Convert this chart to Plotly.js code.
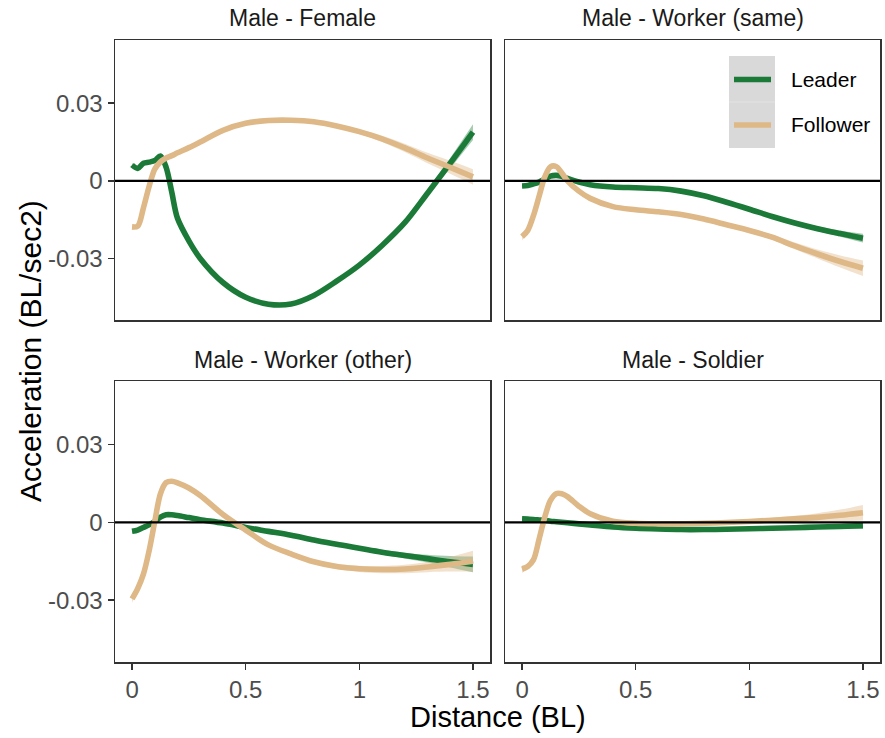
<!DOCTYPE html>
<html>
<head>
<meta charset="utf-8">
<script src="https://cdn.plot.ly/plotly-3.0.1.min.js"></script>
<style>html,body{margin:0;padding:0;background:#fff;}#chart{width:885px;height:738px;}</style>
</head>
<body>
<div id="chart"></div>
<script>
// ---- data ----
const distance = [0,0.025,0.05,0.075,0.1,0.125,0.15,0.175,0.2,0.25,0.3,0.4,0.5,0.6,0.7,0.8,0.9,1.0,1.1,1.2,1.3,1.4,1.5];
const panels = ["Male - Female","Male - Worker (same)","Male - Worker (other)","Male - Soldier"];
const roles = ["Leader","Follower"];

const femaleLeader   = [0.0061,0.0048,0.0068,0.0072,0.0078,0.0096,0.0052,-0.0045,-0.0145,-0.0232,-0.0300,-0.0393,-0.0450,-0.0477,-0.0476,-0.0443,-0.0388,-0.0326,-0.0250,-0.0162,-0.0048,0.0068,0.0188];
const femaleFollower = [-0.0178,-0.0175,-0.0105,-0.0022,0.0045,0.0073,0.0088,0.0097,0.0108,0.0128,0.0150,0.0195,0.0222,0.0233,0.0234,0.0228,0.0212,0.0190,0.0162,0.0127,0.0088,0.0052,0.0015];
const sameLeader     = [-0.0020,-0.0018,-0.0012,-0.0005,0.0006,0.0018,0.0021,0.0017,0.0009,-0.0005,-0.0015,-0.0024,-0.0027,-0.0030,-0.0040,-0.0058,-0.0083,-0.0110,-0.0138,-0.0163,-0.0185,-0.0204,-0.0222];
const sameFollower   = [-0.0216,-0.0192,-0.0135,-0.0060,0.0015,0.0054,0.0055,0.0030,0.0000,-0.0040,-0.0068,-0.0100,-0.0112,-0.0120,-0.0130,-0.0148,-0.0170,-0.0192,-0.0218,-0.0252,-0.0283,-0.0312,-0.0338];
const otherLeader    = [-0.0035,-0.0030,-0.0020,-0.0010,0.0003,0.0020,0.0029,0.0029,0.0026,0.0018,0.0010,-0.0003,-0.0020,-0.0035,-0.0050,-0.0068,-0.0085,-0.0100,-0.0115,-0.0128,-0.0140,-0.0152,-0.0162];
const otherFollower  = [-0.0295,-0.0255,-0.0200,-0.0110,0.0003,0.0110,0.0153,0.0158,0.0152,0.0132,0.0103,0.0030,-0.0030,-0.0087,-0.0122,-0.0152,-0.0170,-0.0179,-0.0182,-0.0180,-0.0172,-0.0162,-0.0150];
const soldierLeader  = [0.0013,0.0012,0.0011,0.0009,0.0007,0.0004,0.0002,0.0000,-0.0002,-0.0006,-0.0010,-0.0018,-0.0023,-0.0026,-0.0028,-0.0028,-0.0027,-0.0025,-0.0023,-0.0021,-0.0018,-0.0016,-0.0013];
const soldierFollower= [-0.0180,-0.0170,-0.0145,-0.0065,0.0020,0.0084,0.0110,0.0110,0.0099,0.0062,0.0033,0.0004,-0.0004,-0.0006,-0.0006,-0.0004,-0.0001,0.0003,0.0008,0.0013,0.0019,0.0027,0.0037];

// standard-error half widths of the ribbons
const femaleLeaderSE   = [0.0008,0.0006,0.0006,0.0006,0.0006,0.0006,0.0006,0.0006,0.0006,0.0006,0.0006,0.0006,0.0007,0.0008,0.0008,0.0008,0.0007,0.0007,0.0007,0.0009,0.0013,0.0020,0.0030];
const femaleFollowerSE = [0.0010,0.0006,0.0005,0.0005,0.0005,0.0005,0.0005,0.0005,0.0005,0.0005,0.0005,0.0005,0.0005,0.0005,0.0005,0.0006,0.0007,0.0009,0.0012,0.0016,0.0020,0.0025,0.0030];
const sameLeaderSE     = [0.0008,0.0005,0.0004,0.0004,0.0004,0.0004,0.0004,0.0004,0.0004,0.0004,0.0004,0.0004,0.0004,0.0004,0.0004,0.0004,0.0005,0.0005,0.0006,0.0007,0.0009,0.0012,0.0017];
const sameFollowerSE   = [0.0015,0.0008,0.0005,0.0005,0.0005,0.0005,0.0005,0.0005,0.0005,0.0005,0.0005,0.0005,0.0005,0.0005,0.0006,0.0006,0.0007,0.0008,0.0010,0.0013,0.0017,0.0023,0.0030];
const otherLeaderSE    = [0.0008,0.0005,0.0005,0.0005,0.0005,0.0005,0.0005,0.0005,0.0005,0.0005,0.0005,0.0005,0.0005,0.0005,0.0005,0.0005,0.0006,0.0007,0.0009,0.0011,0.0015,0.0022,0.0030];
const otherFollowerSE  = [0.0015,0.0008,0.0006,0.0006,0.0006,0.0006,0.0006,0.0006,0.0006,0.0006,0.0006,0.0006,0.0006,0.0006,0.0007,0.0008,0.0010,0.0012,0.0014,0.0016,0.0020,0.0028,0.0040];
const soldierLeaderSE  = [0.0006,0.0004,0.0004,0.0004,0.0004,0.0004,0.0004,0.0004,0.0004,0.0004,0.0004,0.0004,0.0004,0.0004,0.0004,0.0004,0.0004,0.0005,0.0005,0.0006,0.0007,0.0009,0.0012];
const soldierFollowerSE= [0.0015,0.0008,0.0005,0.0005,0.0005,0.0005,0.0005,0.0005,0.0005,0.0005,0.0005,0.0005,0.0005,0.0005,0.0005,0.0006,0.0006,0.0007,0.0009,0.0012,0.0016,0.0022,0.0030];

const xTicks = [0,0.5,1,1.5];
const xTickText = ["0","0.5","1","1.5"];
const yTicks = [-0.03,0,0.03];
const yTickText = ["-0.03","0","0.03"];

// ---- styling ----
const W = 885, H = 738;
const FONT = "Liberation Sans, Arial, Helvetica, sans-serif";
const lineColors = {Leader:"#1b7a37", Follower:"#deb887"};
const ribbonColors = {Leader:"rgba(27,122,55,0.40)", Follower:"rgba(222,184,135,0.42)"};
const series = [
  [femaleLeader, femaleLeaderSE, femaleFollower, femaleFollowerSE],
  [sameLeader, sameLeaderSE, sameFollower, sameFollowerSE],
  [otherLeader, otherLeaderSE, otherFollower, otherFollowerSE],
  [soldierLeader, soldierLeaderSE, soldierFollower, soldierFollowerSE]
];
const px = x => x / W;
const py = y => 1 - y / H;

const traces = [];
series.forEach((s, i) => {
  const xa = i === 0 ? "x" : "x" + (i + 1);
  const ya = i === 0 ? "y" : "y" + (i + 1);
  const pairs = [["Leader", s[0], s[1]], ["Follower", s[2], s[3]]];
  // ribbons
  pairs.forEach(([role, vals, se]) => {
    traces.push({x: distance, y: vals.map((v, k) => v - se[k]), xaxis: xa, yaxis: ya, type: "scatter", mode: "lines",
      line: {width: 0, shape: "spline", smoothing: 0.9, color: ribbonColors[role]}, showlegend: false, hoverinfo: "skip"});
    traces.push({x: distance, y: vals.map((v, k) => v + se[k]), xaxis: xa, yaxis: ya, type: "scatter", mode: "lines",
      fill: "tonexty", fillcolor: ribbonColors[role],
      line: {width: 0, shape: "spline", smoothing: 0.9, color: ribbonColors[role]}, showlegend: false, hoverinfo: "skip"});
  });
  // lines
  pairs.forEach(([role, vals]) => {
    traces.push({x: distance, y: vals, xaxis: xa, yaxis: ya, type: "scatter", mode: "lines", name: role,
      line: {width: 5.6, shape: "spline", smoothing: 0.9, color: lineColors[role]}, showlegend: false});
  });
});

const xDomL = [px(115), px(490)], xDomR = [px(505), px(880)];
const yDomT = [py(320), py(40)], yDomB = [py(662), py(381)];

function xAxis(domain, anchor, showTicks) {
  return {domain, anchor, range: [-0.075, 1.575], showline: true, mirror: true, linecolor: "#333333", linewidth: 1.5,
    showgrid: false, zeroline: false, tickvals: xTicks, ticktext: xTickText, ticks: showTicks ? "outside" : "",
    ticklen: 6, tickwidth: 1.5, tickcolor: "#333333", showticklabels: showTicks,
    tickfont: {family: FONT, size: 24, color: "#4d4d4d"}, fixedrange: true};
}
function yAxis(domain, anchor, showTicks) {
  return {domain, anchor, range: [-0.0538, 0.0544], showline: true, mirror: true, linecolor: "#333333", linewidth: 1.5,
    showgrid: false, zeroline: false, tickvals: yTicks, ticktext: yTickText, ticks: showTicks ? "outside" : "",
    ticklen: 6, tickwidth: 1.5, tickcolor: "#333333", showticklabels: showTicks,
    tickfont: {family: FONT, size: 24, color: "#4d4d4d"}, fixedrange: true};
}

const shapes = [];
["x", "x2", "x3", "x4"].forEach((xa, i) => {
  const ya = i === 0 ? "y" : "y" + (i + 1);
  shapes.push({type: "line", xref: xa + " domain", yref: ya, x0: 0, x1: 1, y0: 0, y1: 0,
    line: {color: "#000000", width: 2.3}, layer: "above"});
});
// legend keys
shapes.push({type: "rect", xref: "paper", yref: "paper", x0: px(729), x1: px(775), y0: py(102), y1: py(56),
  fillcolor: "#d9d9d9", line: {width: 0}, layer: "above"});
shapes.push({type: "rect", xref: "paper", yref: "paper", x0: px(729), x1: px(775), y0: py(148), y1: py(102),
  fillcolor: "#d9d9d9", line: {width: 0}, layer: "above"});
shapes.push({type: "line", xref: "paper", yref: "paper", x0: px(729), x1: px(775), y0: py(102), y1: py(102),
  line: {color: "#e3e3e3", width: 1}, layer: "above"});
shapes.push({type: "line", xref: "paper", yref: "paper", x0: px(734), x1: px(771), y0: py(79.5), y1: py(79.5),
  line: {color: lineColors.Leader, width: 5.6}, layer: "above"});
shapes.push({type: "line", xref: "paper", yref: "paper", x0: px(734), x1: px(771), y0: py(125), y1: py(125),
  line: {color: lineColors.Follower, width: 5.6}, layer: "above"});

const annotations = [];
const titlePos = [[(115 + 490) / 2, 18], [(505 + 880) / 2, 18], [(115 + 490) / 2, 360], [(505 + 880) / 2, 360]];
panels.forEach((t, i) => {
  annotations.push({text: t, xref: "paper", yref: "paper", x: px(titlePos[i][0]), y: py(titlePos[i][1]),
    xanchor: "center", yanchor: "middle", showarrow: false, font: {family: FONT, size: 23, color: "#1a1a1a"}});
});
annotations.push({text: "Distance (BL)", xref: "paper", yref: "paper", x: px(497.5), y: py(717),
  xanchor: "center", yanchor: "middle", showarrow: false, font: {family: FONT, size: 29, color: "#000000"}});
annotations.push({text: "Acceleration (BL/sec2)", xref: "paper", yref: "paper", x: px(30), y: py(351),
  xanchor: "center", yanchor: "middle", textangle: -90, showarrow: false, font: {family: FONT, size: 30, color: "#000000"}});
roles.forEach((r, i) => {
  annotations.push({text: r, xref: "paper", yref: "paper", x: px(789), y: py(i === 0 ? 79.5 : 125),
    xanchor: "left", yanchor: "middle", showarrow: false, font: {family: FONT, size: 21, color: "#000000"}});
});

const layout = {
  width: W, height: H, margin: {l: 0, r: 0, t: 0, b: 0}, paper_bgcolor: "#ffffff", plot_bgcolor: "#ffffff",
  showlegend: false, font: {family: FONT},
  xaxis: xAxis(xDomL, "y", false), yaxis: yAxis(yDomT, "x", true),
  xaxis2: xAxis(xDomR, "y2", false), yaxis2: yAxis(yDomT, "x2", false),
  xaxis3: xAxis(xDomL, "y3", true), yaxis3: yAxis(yDomB, "x3", true),
  xaxis4: xAxis(xDomR, "y4", true), yaxis4: yAxis(yDomB, "x4", false),
  shapes, annotations
};
Plotly.newPlot("chart", traces, layout, {displayModeBar: false, staticPlot: true});
</script>
</body>
</html>
